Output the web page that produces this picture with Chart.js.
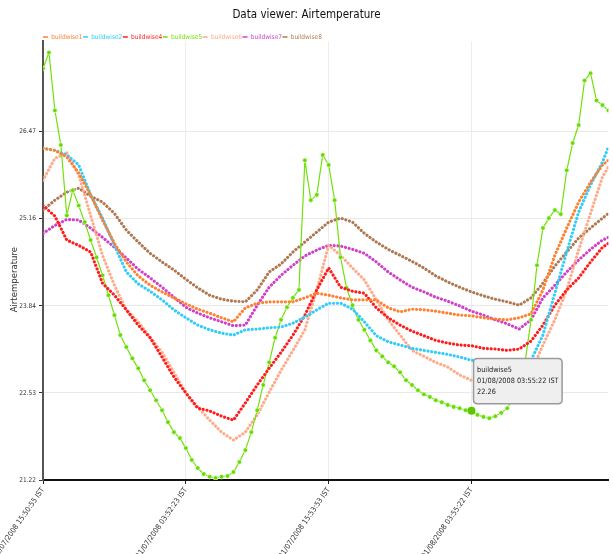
<!DOCTYPE html>
<html>
<head>
<meta charset="utf-8">
<title>Data viewer: Airtemperature</title>
<script src="https://cdn.jsdelivr.net/npm/chart.js@4.4.0/dist/chart.umd.min.js"></script>
<style>
  html, body { margin: 0; padding: 0; background: #fff; }
  #wrap { width: 613px; height: 554px; }
</style>
</head>
<body>
<div id="wrap"><canvas id="chartAir"></canvas></div>
<script>
// sample index = 10 minute steps, a label every 72 samples
const tickSamples = [0, 72, 144, 216];
const tickLabels = ['30/07/2008 15:50:55 IST', '31/07/2008 03:52:23 IST', '31/07/2008 15:53:53 IST', '01/08/2008 03:55:22 IST'];
const yTicks = [21.22, 22.53, 23.84, 25.16, 26.47];

// hourly readings (last one at the right edge) and half-hourly for buildwise5
const hourX = Array.from({ length: 48 }, (_, h) => h * 6).concat([285]);
const halfHourX = Array.from({ length: 96 }, (_, i) => i * 3);

const buildwise1 = [26.21,26.18,26.08,25.84,25.51,25.13,24.78,24.50,24.29,24.15,24.05,23.96,23.87,23.79,23.73,23.66,23.60,23.81,23.88,23.90,23.90,23.90,23.96,24.03,24.00,23.96,23.93,23.93,23.93,23.81,23.75,23.79,23.78,23.76,23.73,23.70,23.69,23.66,23.64,23.63,23.66,23.72,24.08,24.60,25.01,25.40,25.70,25.96,26.03];
const buildwise2 = [26.21,26.18,26.11,25.96,25.51,25.16,24.75,24.35,24.17,24.06,23.93,23.78,23.66,23.55,23.48,23.43,23.40,23.48,23.49,23.51,23.52,23.58,23.67,23.78,23.88,23.88,23.79,23.60,23.39,23.30,23.25,23.20,23.17,23.14,23.11,23.07,23.02,23.01,22.99,22.96,22.95,23.02,23.40,24.03,24.65,25.25,25.66,26.00,26.23];
const buildwise4 = [25.35,25.19,24.83,24.75,24.65,24.18,24.00,23.78,23.55,23.36,23.07,22.77,22.53,22.30,22.26,22.18,22.12,22.38,22.65,22.90,23.14,23.40,23.70,24.08,24.41,24.12,24.06,24.03,23.81,23.66,23.55,23.46,23.39,23.32,23.28,23.25,23.24,23.20,23.19,23.17,23.19,23.31,23.55,23.85,24.08,24.26,24.50,24.72,24.78];
const buildwise5 = [27.41,27.65,26.78,26.26,25.20,25.58,25.35,25.10,24.83,24.57,24.30,24.00,23.70,23.40,23.22,23.05,22.90,22.72,22.57,22.42,22.27,22.09,21.94,21.85,21.70,21.52,21.40,21.31,21.27,21.25,21.27,21.28,21.34,21.49,21.67,21.94,22.27,22.65,22.99,23.36,23.63,23.82,23.96,24.08,26.03,25.43,25.51,26.11,25.96,25.43,24.57,24.11,23.85,23.63,23.48,23.32,23.17,23.08,22.99,22.93,22.84,22.72,22.65,22.57,22.51,22.47,22.42,22.39,22.35,22.32,22.30,22.27,22.26,22.20,22.17,22.15,22.18,22.23,22.30,22.45,22.69,22.99,23.63,24.45,25.01,25.16,25.28,25.22,25.88,26.29,26.56,27.23,27.34,26.93,26.86,26.78];
const buildwise6 = [25.73,26.06,26.14,25.81,25.20,24.60,24.15,23.78,23.60,23.37,23.14,22.84,22.53,22.32,22.12,21.94,21.82,21.94,22.20,22.54,22.87,23.17,23.48,24.08,24.75,24.60,24.41,24.23,23.93,23.63,23.40,23.17,23.08,22.99,22.92,22.80,22.72,22.68,22.65,22.65,22.65,22.84,23.25,23.63,24.08,24.68,25.23,25.78,25.93];
const buildwise7 = [24.93,25.05,25.14,25.13,25.01,24.87,24.72,24.56,24.39,24.26,24.12,23.97,23.82,23.73,23.66,23.60,23.54,23.55,23.85,24.12,24.30,24.45,24.59,24.68,24.75,24.74,24.69,24.63,24.50,24.35,24.23,24.12,24.05,23.97,23.91,23.84,23.76,23.70,23.63,23.57,23.49,23.63,23.96,24.15,24.35,24.53,24.69,24.83,24.87];
const buildwise8 = [25.28,25.43,25.55,25.61,25.49,25.40,25.23,24.98,24.80,24.63,24.50,24.38,24.24,24.11,24.00,23.94,23.91,23.90,24.08,24.35,24.47,24.65,24.80,24.95,25.10,25.16,25.10,24.93,24.80,24.69,24.60,24.51,24.41,24.29,24.20,24.12,24.05,23.99,23.94,23.90,23.85,23.96,24.18,24.44,24.65,24.86,25.01,25.16,25.23];

const FONT = "'DejaVu Sans Condensed', 'DejaVu Sans', sans-serif";
Chart.defaults.font.family = FONT;

function pairs(xs, ys) {
    return ys.map((y, i) => ({ x: xs[i], y: y }));
}

// dotted series like the original marker chains
function dotted(label, ys, color) {
    return {
        label: label,
        data: pairs(hourX, ys),
        borderColor: color,
        backgroundColor: color,
        borderWidth: 3.1,
        borderDash: [0.1, 3.7],
        borderCapStyle: 'round',
        pointRadius: 0,
        pointHoverRadius: 0,
        tension: 0
    };
}

Chart.Tooltip.positioners.pinned = function (items) {
    if (!items.length) return false;
    const el = items[0].element;
    return { x: el.x + 6, y: el.y };
};

// legend starts at the y axis and sits tight on the plot
const legendTweak = {
    id: 'legendTweak',
    beforeLayout(chart) {
        const lg = chart.legend;
        if (lg && !lg._tight) {
            const fit = lg.fit.bind(lg);
            lg.fit = function () { fit(); this.height -= 9; };
            lg._tight = true;
        }
    },
    afterLayout(chart) {
        chart.legend.left += 42.5;
        chart.legend.right += 42.5;
    }
};

const chart = new Chart(document.getElementById('chartAir'), {
    type: 'line',
    data: {
        datasets: [
            dotted('buildwise1', buildwise1, '#ff8030'),
            dotted('buildwise2', buildwise2, '#30cdfb'),
            dotted('buildwise4', buildwise4, '#ff1c1c'),
            {
                label: 'buildwise5',
                data: pairs(halfHourX, buildwise5),
                borderColor: '#70e20a',
                backgroundColor: '#70e20a',
                borderWidth: 1.2,
                pointRadius: 2.3,
                pointBorderWidth: 0.6,
                pointBorderColor: '#ffffff',
                pointBackgroundColor: '#66dd00',
                pointHoverRadius: 4,
                pointHoverBorderWidth: 0,
                tension: 0
            },
            dotted('buildwise6', buildwise6, '#ffaa88'),
            dotted('buildwise7', buildwise7, '#d040c8'),
            dotted('buildwise8', buildwise8, '#b07850')
        ]
    },
    options: {
        responsive: true,
        maintainAspectRatio: false,
        animation: false,
        events: [],
        layout: { padding: 0 },
        plugins: {
            title: {
                display: true,
                text: 'Data viewer: Airtemperature',
                color: '#111',
                font: { size: 11.5, weight: 'normal' },
                padding: { top: 8, bottom: 11.5 }
            },
            legend: {
                display: true,
                position: 'top',
                align: 'start',
                labels: {
                    usePointStyle: true,
                    pointStyleWidth: 5,
                    boxWidth: 5,
                    boxHeight: 5,
                    padding: 0.5,
                    font: { size: 6.5 },
                    generateLabels(chart) {
                        const items = Chart.defaults.plugins.legend.labels.generateLabels(chart);
                        items.forEach(item => {
                            const ds = chart.data.datasets[item.datasetIndex];
                            item.pointStyle = 'line';
                            item.lineWidth = 1.5;
                            item.lineDash = [];
                            item.lineCap = 'butt';
                            item.strokeStyle = ds.borderColor;
                            item.fontColor = ds.borderColor;
                        });
                        return items;
                    }
                }
            },
            tooltip: {
                position: 'pinned',
                xAlign: 'left',
                yAlign: 'bottom',
                caretSize: 0,
                caretPadding: 7,
                cornerRadius: 4,
                backgroundColor: '#efefef',
                borderColor: '#9a9a9a',
                borderWidth: 1.5,
                titleColor: '#222',
                bodyColor: '#222',
                titleFont: { size: 7.3, weight: 'normal' },
                bodyFont: { size: 7.3 },
                titleMarginBottom: 2,
                bodySpacing: 2,
                padding: { x: 3.5, y: 7.5 },
                displayColors: false,
                callbacks: {
                    title: items => items[0].dataset.label,
                    label: ctx => {
                        const k = tickSamples.indexOf(ctx.parsed.x);
                        return [k >= 0 ? tickLabels[k] : '', ctx.parsed.y.toFixed(2)];
                    }
                }
            }
        },
        scales: {
            x: {
                type: 'linear',
                min: 0,
                max: 285,
                afterBuildTicks: scale => { scale.ticks = tickSamples.map(v => ({ value: v })); },
                afterFit: scale => {
                    scale.height = 74;
                    scale.paddingLeft = 0;
                    scale.paddingRight = 0;
                },
                ticks: {
                    autoSkip: false,
                    minRotation: 55,
                    maxRotation: 55,
                    padding: 2,
                    color: '#333',
                    font: { size: 7.5 },
                    callback: (value, index) => tickLabels[index]
                },
                grid: { color: '#ececec', tickLength: 4, tickColor: '#222' },
                border: { color: '#111', width: 2 }
            },
            y: {
                min: 21.22,
                max: 27.82,
                afterBuildTicks: scale => { scale.ticks = yTicks.map(v => ({ value: v })); },
                afterFit: scale => { scale.width = 43; },
                ticks: {
                    padding: 3,
                    color: '#333',
                    font: { size: 6.5 },
                    callback: value => value.toFixed(2)
                },
                grid: { color: '#e9e9e9', tickLength: 4, tickColor: '#333' },
                border: { color: '#555', width: 2 },
                title: {
                    display: true,
                    // trailing spaces push the label a little below the axis middle, as in the original
                    text: 'Airtemperature' + '\u00a0'.repeat(14),
                    color: '#333',
                    font: { size: 9.5 },
                    padding: { top: 9, bottom: 0 }
                }
            }
        }
    },
    plugins: [legendTweak]
});

const active = [{ datasetIndex: 3, index: 72 }];
chart.setActiveElements(active);
chart.tooltip.setActiveElements(active, { x: 0, y: 0 });
chart.update();
</script>
</body>
</html>
